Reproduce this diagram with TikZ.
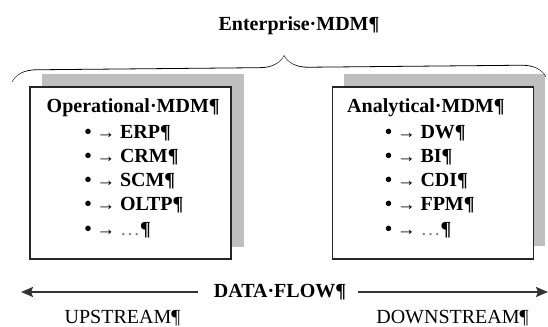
\documentclass[tikz,border=0pt]{standalone}
\usepackage{fontspec}
\setmainfont{Liberation Serif}
\usepackage{xcolor}
\usetikzlibrary{positioning}
\usetikzlibrary{arrows.meta,backgrounds}
\usetikzlibrary{decorations.pathreplacing,calligraphy}
\tikzset{mdmbox/.style={draw=black!85, fill=white, line width=1.1pt, minimum width=150.5pt, minimum height=129pt, inner sep=0pt},
         shade/.style={fill=black!25},
         head/.style={font=\bfseries\fontsize{15}{18}\selectfont, inner sep=0pt, anchor=base west},
         item/.style={font=\bfseries\fontsize{15}{18}\selectfont, inner sep=0pt, anchor=base west},
         flow/.style={line width=1.5pt, draw=black!80, -{Stealth[length=9pt,width=7.5pt,inset=1.5pt]}}}
\newcommand{\itm}[1]{\makebox[9pt][l]{•}\makebox[17.5pt][l]{\fontsize{14}{14}\selectfont→}#1}
\newcommand{\more}{\textcolor{black!50}{\mdseries …}¶}

\begin{document}
\begin{tikzpicture}[x=0.75pt, y=-0.75pt]
		\useasboundingbox (0,0) rectangle (548,326);
		\node[head, anchor=base] (ent) at (299,30) {Enterprise·MDM¶};
		\draw[decorate, decoration={calligraphic brace, amplitude=18pt, aspect=0.51}, line width=0.6pt]
			(12,82) -- (546,77);
		
		% the two boxes, each with its grey shadow
		\node[mdmbox] (opl) at (130.5,173) {};
		\node[mdmbox] (ana) at (433,173) {};
		\begin{scope}[on background layer]
			\fill[shade] ([shift={(13,-12)}]opl.north west) rectangle ([shift={(12,-13)}]opl.south east);
			\fill[shade] ([shift={(12,-12)}]ana.north west) rectangle ([shift={(11,-14)}]ana.south east);
		\end{scope}
		
		\node[head] (oplt) at ([shift={(17,26)}]opl.north west) {Operational·MDM¶};
		\foreach \t [count=\i] in {ERP¶, CRM¶, SCM¶, OLTP¶, \more}
			\node[item] (opl\i) at ([shift={(38,24.3*\i+1.5)}]oplt.base west) {\itm{\t}};
		\node[head] (anat) at ([shift={(15,26)}]ana.north west) {Analytical·MDM¶};
		\foreach \t [count=\i] in {DW¶, BI¶, CDI¶, FPM¶, \more}
			\node[item] (ana\i) at ([shift={(38,24.3*\i+1.5)}]anat.base west) {\itm{\t}};
		
		% data flow in both directions
		\node[head, anchor=base] (flow) at (280,297) {DATA·FLOW¶};
		\coordinate (up) at (21,292);
		\coordinate (down) at (548,292);
		\draw[flow] ([xshift=-12pt]flow.west |- up) -- (up);
		\draw[flow] ([xshift=9pt]flow.east |- down) -- (down);
		\node[head, font=\fontsize{15}{18}\selectfont, anchor=base] (upst) at (122.5,323) {UPSTREAM¶};
		\node[head, font=\fontsize{15}{18}\selectfont, anchor=base] (dnst) at (452.5,323) {DOWNSTREAM¶};
	\end{tikzpicture}
\end{document}
